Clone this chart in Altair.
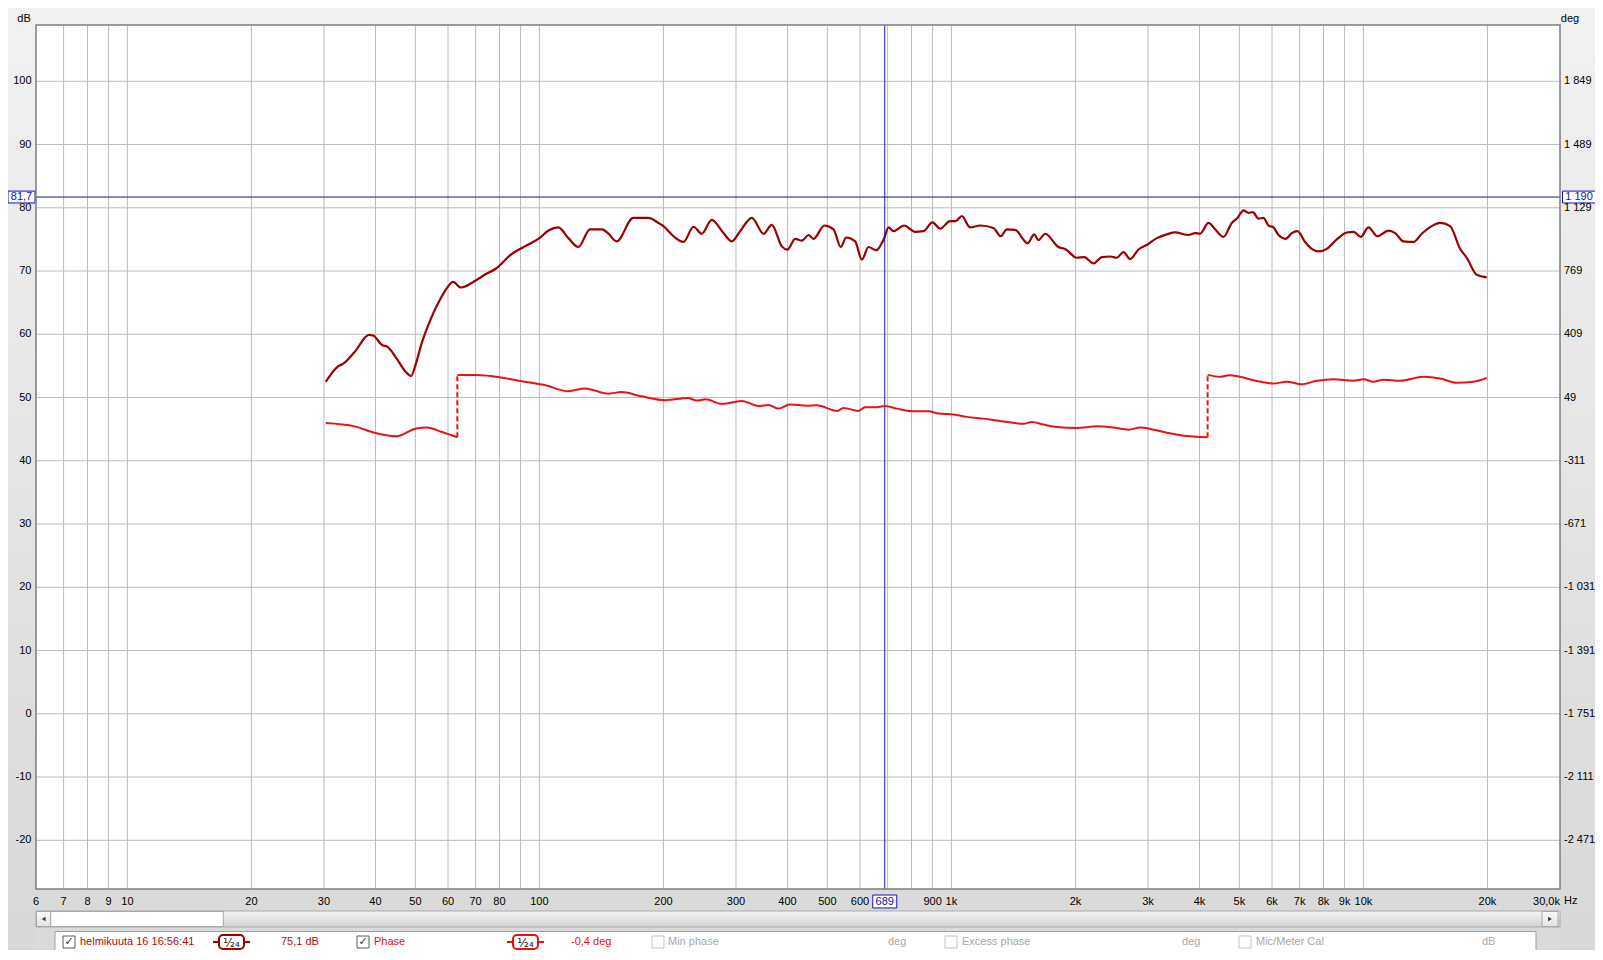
import altair as alt
import pandas as pd

# ---------------- data ----------------
spl_freq = [30.3, 32.4, 33.5, 35.6, 38.6, 39.5, 41.5, 42.8, 45.0, 47.3,
            48.8, 50.0, 51.8, 54.8, 57.6, 59.6, 61.7, 64.5, 70, 74,
            78.5, 85.3, 94, 100, 105.2, 111.2, 117.6, 124.3, 132.7, 142,
            147.1, 154, 169, 183.9, 194.5, 200, 211.6, 223.7, 236.6, 247.8,
            262, 279.7, 293, 307, 327.8, 349.9, 366.4, 387.5, 400, 417.6,
            433.5, 450, 462.7, 491.9, 517.3, 538.9, 555.3, 584, 606.2, 629.2,
            656.8, 686.8, 703.6, 723.5, 767.8, 816.4, 855.3, 899.5, 938.9, 993,
            1025, 1060, 1110, 1174, 1265, 1318, 1363, 1428, 1532, 1588,
            1627, 1689, 1819, 1888, 2015, 2100, 2212, 2317, 2428, 2520,
            2616, 2715, 2844, 2991, 3151, 3332, 3491, 3762, 3905, 4015,
            4206, 4365, 4574, 4792, 4947, 5116, 5260, 5389, 5562, 5719,
            5882, 6048, 6219, 6479, 6700, 6916, 7219, 7493, 7779, 8150,
            8616, 9113, 9458, 9853, 10285, 10817, 11504, 11940, 12510, 13225,
            13853, 14650, 15350, 16235, 17170, 17815, 18840, 19920]
spl_db = [52.5, 54.9, 55.4, 57.2, 59.9, 59.8, 58.3, 58.0, 56.2, 54.1,
          53.4, 55.1, 58.6, 62.8, 65.7, 67.3, 68.3, 67.4, 68.5, 69.5,
          70.4, 72.6, 74.2, 75.2, 76.4, 76.9, 75.2, 73.8, 76.6, 76.6,
          75.9, 74.7, 78.4, 78.4, 77.6, 77.1, 75.5, 74.6, 77.0, 75.9,
          78.1, 76.0, 74.7, 76.3, 78.4, 75.9, 77.3, 73.9, 73.4, 75.1,
          74.8, 75.7, 75.1, 77.2, 76.6, 73.8, 75.3, 74.7, 71.8, 73.8,
          73.3, 75.2, 76.9, 76.3, 77.2, 76.2, 76.3, 77.7, 76.7, 77.9,
          77.9, 78.7, 76.9, 77.2, 76.8, 75.5, 76.6, 76.5, 74.4, 75.8,
          74.9, 75.9, 73.8, 73.5, 72.1, 72.2, 71.2, 72.2, 72.3, 72.1,
          73.0, 71.9, 73.4, 74.2, 75.2, 75.8, 76.1, 75.7, 76.0, 75.9,
          77.6, 76.6, 75.4, 77.6, 78.4, 79.6, 79.2, 79.3, 78.3, 78.4,
          77.2, 76.9, 75.7, 75.1, 76.0, 76.3, 74.6, 73.5, 73.1, 73.5,
          75.0, 76.1, 76.2, 75.4, 76.9, 75.5, 76.4, 76.0, 74.7, 74.6,
          75.9, 77.1, 77.6, 77.1, 73.5, 72.1, 69.4, 69.0]

# wrapped phase (deg), three segments
ph1_freq = [30.3, 35.6, 40, 45, 50, 53.3, 58, 63.2]
ph1_deg = [-96, -115, -153, -172, -128, -122, -147, -177]
ph2_freq = [63.2, 70, 80, 90, 103, 117.6, 129, 147, 158, 177,
            202, 229, 241, 253, 277, 295, 310, 340, 360, 380,
            406, 446, 471, 529, 547, 595, 617, 659, 690, 737,
            802, 880, 930, 1012, 1090, 1196, 1313, 1496, 1568, 1673,
            1802, 2015, 2253, 2474, 2690, 2871, 3093, 3332, 3727, 4186]
ph2_deg = [178, 177, 165, 143, 120, 85, 101, 71, 80, 56,
           34, 47, 32, 39, 13, 22, 30, 1, 7, -14,
           9, 3, 5, -27, -10, -27, -6, -6, 1, -14,
           -29, -29, -42, -48, -61, -71, -84, -100, -90, -105,
           -119, -124, -115, -122, -134, -122, -134, -151, -170, -177]
ph3_freq = [4186, 4489, 4729, 5012, 5510, 6048, 6516, 7087, 7706, 8459,
            9458, 10000, 10578, 11185, 12276, 13985, 15350, 16853, 18493, 19920]
ph3_deg = [178, 167, 176, 167, 143, 129, 139, 125, 144, 153,
           144, 153, 139, 150, 144, 167, 158, 133, 139, 161]

jump_freq = [63.2, 4186]
jump_lo = [-177, -177]
jump_hi = [178, 178]

cursor_freq = [689]
cursor_db = [81.7]
cursor_db_text = ["81,7"]
cursor_deg_text = ["1 190"]
cursor_freq_text = ["689"]

x_tick_vals = [6, 7, 8, 9, 10, 20, 30, 40, 50, 60, 70, 80, 100, 200, 300, 400,
               500, 600, 900, 1000, 2000, 3000, 4000, 5000, 6000, 7000, 8000,
               9000, 10000, 20000, 30000]
x_tick_text = ["6", "7", "8", "9", "10", "20", "30", "40", "50", "60", "70", "80",
               "100", "200", "300", "400", "500", "600", "900", "1k", "2k", "3k",
               "4k", "5k", "6k", "7k", "8k", "9k", "10k", "20k", "30,0k"]
x_grid = [7, 8, 9, 10, 20, 30, 40, 50, 60, 70, 80, 90, 100, 200, 300, 400, 500,
          600, 700, 800, 900, 1000, 2000, 3000, 4000, 5000, 6000, 7000, 8000,
          9000, 10000, 20000]
db_ticks = [-20, -10, 0, 10, 20, 30, 40, 50, 60, 70, 80, 90, 100]
db_tick_text = ["-20", "-10", "0", "10", "20", "30", "40", "50", "60", "70",
                "80", "90", "100"]
ph_tick_vals = [1849, 1489, 1129, 769, 409, 49, -311, -671, -1031, -1391,
                -1751, -2111, -2471]
ph_tick_text = ["1 849", "1 489", "1 129", "769", "409", "49", "-311", "-671",
                "-1 031", "-1 391", "-1 751", "-2 111", "-2 471"]

# ---------------- layout / style ----------------
W, H = 1524, 864
FONT = "Liberation Sans, Arial, sans-serif"
SPL_C = "#9a0000"
PH_C = "#ee1111"
CUR_C = "#1414a8"
GRID_C = "#bcbcbc"

db_dom = [-27.7, 108.9]
# right axis: 1849 deg at 100 dB, 36 deg per dB (from its tick labels)
ph_dom = [1849 + (d - 100) * 36 for d in db_dom]

xs = alt.Scale(type="log", domain=[6, 30000], nice=False)
ys = alt.Scale(domain=db_dom, nice=False, zero=False)
ps = alt.Scale(domain=ph_dom, nice=False, zero=False)

one = pd.DataFrame({"k": [0]})


def ui_text(txt, x, y, color="#000", size=11, align="left", font=FONT):
    return alt.Chart(one).mark_text(text=txt, align=align, baseline="middle",
                                    color=color, fontSize=size, font=font).encode(
        x=alt.value(x), y=alt.value(y))


def ui_rect(x, x2, y, y2, fill, stroke=None, sw=1.0, cr=0, fo=1.0):
    kw = dict(fill=fill, cornerRadius=cr, fillOpacity=fo)
    if stroke:
        kw.update(stroke=stroke, strokeWidth=sw)
    return alt.Chart(one).mark_rect(**kw).encode(
        x=alt.value(x), x2=alt.value(x2), y=alt.value(y), y2=alt.value(y2))


def ui_rule(x, x2, y, y2, color, sw=1.0):
    return alt.Chart(one).mark_rule(color=color, strokeWidth=sw).encode(
        x=alt.value(x), x2=alt.value(x2), y=alt.value(y), y2=alt.value(y2))


def ui_tri(shape, x, y):
    return alt.Chart(one).mark_point(shape=shape, filled=True, size=22,
                                     color="#404040", opacity=1).encode(
        x=alt.value(x), y=alt.value(y))


def grad(c0, c1):
    return {"gradient": "linear", "x1": 0, "y1": 0, "x2": 0, "y2": 1,
            "stops": [{"offset": 0, "color": c0}, {"offset": 1, "color": c1}]}


def checkbox(x, y, checked):
    parts = [ui_rect(x, x + 12, y - 6, y + 6, "white",
                     "#5a5a5a" if checked else "#c4c4c4", 1)]
    if checked:
        parts.append(ui_text("\u2713", x + 6, y, "#333", 11, "center", "DejaVu Sans"))
    return parts


def icon(x, y, color):
    return [ui_rule(x - 6, x + 31, y, y, color, 2),
            ui_rect(x, x + 25, y - 7, y + 7, "white", color, 2, 4),
            ui_text("\u00b9\u2044\u2082\u2084", x + 12.5, y + 0.5, "#222", 12,
                    "center", "DejaVu Sans")]


# ---------------- data frames ----------------
spl_df = pd.DataFrame({"f": spl_freq, "db": spl_db})
ph_df = pd.concat([
    pd.DataFrame({"f": ph1_freq, "deg": ph1_deg, "seg": "a"}),
    pd.DataFrame({"f": ph2_freq, "deg": ph2_deg, "seg": "b"}),
    pd.DataFrame({"f": ph3_freq, "deg": ph3_deg, "seg": "c"}),
])
jump_df = pd.DataFrame({"f": jump_freq, "lo": jump_lo, "hi": jump_hi})
cur_df = pd.DataFrame({"f": cursor_freq, "db": cursor_db, "tdb": cursor_db_text,
                       "tdeg": cursor_deg_text, "tf": cursor_freq_text})
xg_df = pd.DataFrame({"f": x_grid})
yg_df = pd.DataFrame({"db": db_ticks, "t": db_tick_text})
xl_df = pd.DataFrame({"f": x_tick_vals, "t": x_tick_text})
pl_df = pd.DataFrame({"deg": ph_tick_vals, "t": ph_tick_text})

X = lambda f: alt.X(f, scale=xs, axis=None)
Y = lambda f: alt.Y(f, scale=ys, axis=None)
P = lambda f: alt.Y(f, scale=ps, axis=None)

# ---------------- background / UI ----------------
ui = [
    ui_rect(-28, 0, -17, 925, grad("#f1f1f1", "#d8d8d8")),
    ui_rect(W, W + 35, -17, 925, grad("#f1f1f1", "#d8d8d8")),
    ui_rect(0, W, -17, 0, "#f1f1f1"),
    ui_rect(0, W, H, 925, "#dadada"),
    # scrollbar
    ui_rect(0, W, 886, 902, grad("#f6f6f6", "#d2d2d2"), "#a8a8a8", 1),
    ui_rect(0.5, 14.7, 886.5, 901.5, grad("#fbfbfb", "#e2e2e2"), "#a8a8a8", 1),
    ui_rect(14.7, 187.3, 886.5, 901.5, "white", "#a8a8a8", 1),
    ui_rect(1506, 1522, 886.5, 901.5, grad("#fbfbfb", "#e2e2e2"), "#a8a8a8", 1),
    ui_tri("triangle-left", 7.6, 894),
    ui_tri("triangle-right", 1514, 894),
    # legend panel
    ui_rect(19, 1500, 906.5, 940, "white", "#a0a0a0", 1),
    ui_text("helmikuuta 16 16:56:41", 44, 917, "#b00a0a"),
    ui_text("75,1 dB", 245, 917, "#b00a0a"),
    ui_text("Phase", 338, 917, "#e41111"),
    ui_text("-0,4 deg", 535, 917, "#e41111"),
    ui_text("Min phase", 632, 917, "#a8a8a8"),
    ui_text("deg", 852, 917, "#a8a8a8"),
    ui_text("Excess phase", 926, 917, "#a8a8a8"),
    ui_text("deg", 1146, 917, "#a8a8a8"),
    ui_text("Mic/Meter Cal", 1220, 917, "#a8a8a8"),
    ui_text("dB", 1446, 917, "#a8a8a8"),
    # axis units
    ui_text("Hz", 1528, 876, "#000"),
    ui_text("dB", -12, -6.5, "#000", 11, "center"),
    ui_text("deg", W + 10, -6.5, "#000", 11, "center"),
]
ui += checkbox(27, 917, True) + checkbox(321, 917, True)
ui += checkbox(616, 917, False) + checkbox(909, 917, False) + checkbox(1203, 917, False)
ui += icon(183, 917, "#a00000") + icon(477, 917, "#e41111")

# ---------------- grid and tick labels (through the scales) ----------------
xgrid = alt.Chart(xg_df).mark_rule(color=GRID_C, strokeWidth=1).encode(x=X("f:Q"))
ygrid = alt.Chart(yg_df).mark_rule(color=GRID_C, strokeWidth=1).encode(y=Y("db:Q"))

lab_kw = dict(fontSize=11, font=FONT, color="#000", baseline="middle")
xlab = alt.Chart(xl_df).transform_filter("datum.f < 30000").mark_text(
    align="center", **lab_kw).encode(x=X("f:Q"), y=alt.value(H + 12.5), text="t:N")
xlab_end = alt.Chart(xl_df).transform_filter("datum.f >= 30000").mark_text(
    align="right", **lab_kw).encode(x=X("f:Q"), y=alt.value(H + 12.5), text="t:N")
ylab = alt.Chart(yg_df).mark_text(align="right", **lab_kw).encode(
    x=alt.value(-4.5), y=Y("db:Q"), text="t:N")

# ---------------- data layers ----------------
spl = alt.Chart(spl_df).mark_line(color=SPL_C, strokeWidth=2.2,
                                  interpolate="monotone").encode(
    x=X("f:Q"), y=Y("db:Q"))

cur_v = alt.Chart(cur_df).mark_rule(color=CUR_C, strokeWidth=1).encode(x=X("f:Q"))
cur_h = alt.Chart(cur_df).mark_rule(color=CUR_C, strokeWidth=1).encode(y=Y("db:Q"))

box_kw = dict(filled=True, color="white", stroke=CUR_C, strokeWidth=1, opacity=1)
txt_kw = dict(color=CUR_C, fontSize=11, font=FONT, align="center", baseline="middle")
box_l = alt.Chart(cur_df).mark_point(shape="M-1,-0.44H1V0.44H-1Z", size=729,
                                     **box_kw).encode(x=alt.value(-14.5), y=Y("db:Q"))
txt_l = alt.Chart(cur_df).mark_text(**txt_kw).encode(
    x=alt.value(-14.5), y=Y("db:Q"), text="tdb:N")
box_r = alt.Chart(cur_df).mark_point(shape="M-1,-0.36H1V0.36H-1Z", size=1089,
                                     **box_kw).encode(x=alt.value(W + 19), y=Y("db:Q"))
txt_r = alt.Chart(cur_df).mark_text(**txt_kw).encode(
    x=alt.value(W + 19), y=Y("db:Q"), text="tdeg:N")
box_b = alt.Chart(cur_df).mark_point(shape="M-1,-0.54H1V0.54H-1Z", size=576,
                                     **box_kw).encode(x=X("f:Q"), y=alt.value(H + 12.5))
txt_b = alt.Chart(cur_df).mark_text(**txt_kw).encode(
    x=X("f:Q"), y=alt.value(H + 12.5), text="tf:N")

frame = ui_rect(0, W, 0, H, "white", "#7c7c7c", 1.5, 0, 0)

db_group = alt.layer(*ui, xgrid, ygrid, xlab, xlab_end, ylab, spl, cur_v, cur_h,
                     box_l, txt_l, box_r, txt_r, box_b, txt_b, frame)

phase = alt.Chart(ph_df).mark_line(color=PH_C, strokeWidth=2,
                                   interpolate="monotone").encode(
    x=X("f:Q"), y=P("deg:Q"), detail="seg:N")
jumps = alt.Chart(jump_df).mark_rule(color=PH_C, strokeWidth=2,
                                     strokeDash=[5, 3]).encode(
    x=X("f:Q"), y=P("lo:Q"), y2="hi:Q")
plab = alt.Chart(pl_df).mark_text(align="left", **lab_kw).encode(
    x=alt.value(W + 4), y=P("deg:Q"), text="t:N")
ph_group = alt.layer(phase, jumps, plab)

chart = alt.layer(db_group, ph_group).resolve_scale(y="independent").properties(
    width=W, height=H,
    padding={"left": 28, "top": 17, "right": 35, "bottom": 61},
    autosize=alt.AutoSizeParams(type="none"),
).configure(background="#e4e4e4").configure_view(stroke=None, fill="white")

chart.save("out.html", embed_options={"renderer": "svg", "actions": False})
